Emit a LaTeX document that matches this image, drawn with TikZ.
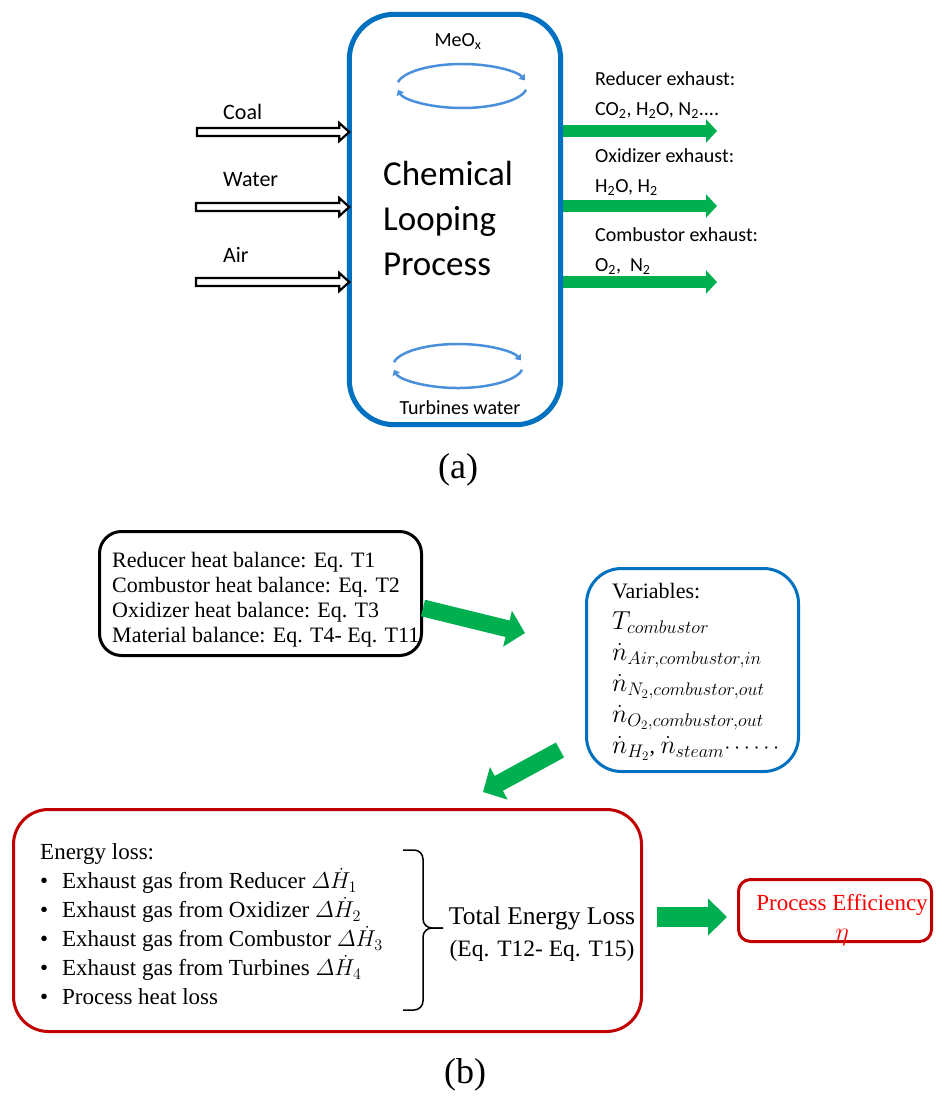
\RequirePackage{fix-cm}
\documentclass[tikz,border=0pt]{standalone}
\usepackage{amsmath}
\usepackage{fontspec}
\setmainfont{Liberation Serif}
\newfontfamily\carlito{Carlito}
\usetikzlibrary{arrows.meta,calc}
\definecolor{boxblue}{HTML}{0070C0}
\definecolor{loopblue}{HTML}{4A8FDB}
\definecolor{arrgreen}{HTML}{00B050}
\definecolor{darkred}{HTML}{C00000}
\definecolor{pered}{HTML}{FF0000}
\newcommand{\hollowarrow}[2]{%
  \draw[hollow] let \p1=(#1), \p2=(#2) in
    (\x1,\y1+4pt) -- (\x2-10pt,\y1+4pt) -- (\x2-10pt,\y1+9pt) -- (\x2,\y1)
    -- (\x2-10pt,\y1-9pt) -- (\x2-10pt,\y1-4pt) -- (\x1,\y1-4pt) -- cycle;}
\newcommand{\bulletitem}{\makebox[22pt][l]{\textbullet}}
\newcommand{\mbig}{\fontsize{26}{31}\selectfont}
\begin{document}
\begin{tikzpicture}[x=1pt,y=-1pt,
  cl/.style={font={\carlito\fontsize{20}{30}\selectfont}, inner sep=0pt},
  loopar/.style={draw=loopblue, line width=2.5pt, -{Triangle[length=5pt,width=8pt]}},
  outarrow/.style={draw=arrgreen, line width=12pt, -{Triangle[length=11pt,width=23pt]}},
  fat/.style={draw=arrgreen, line width=17pt, -{Triangle[length=18pt,width=36pt]}},
  fatter/.style={draw=arrgreen, line width=20pt, -{Triangle[length=19pt,width=36pt]}},
  hollow/.style={draw=black, fill=white, line width=2.2pt},
  tnr/.style={font={\fontsize{22}{25}\selectfont}, align=left, inner sep=0pt},
  bracestyle/.style={line width=1.5pt, rounded corners=9pt}]
\useasboundingbox (0,0) rectangle (935,1100);

% ---------- (a) ----------
\coordinate (coalS) at (197,132);
\coordinate (waterS) at (196,207);
\coordinate (airS) at (196,282);
\coordinate (out1) at (717,131);
\coordinate (out2) at (717,206);
\coordinate (out3) at (717,282);
\node[minimum width=211pt, minimum height=410pt, inner sep=0pt] (clp) at (455,219.5) {};
\draw[outarrow] ([xshift=2.5pt]clp.east |- out1) -- (out1);
\draw[outarrow] ([xshift=2.5pt]clp.east |- out2) -- (out2);
\draw[outarrow] ([xshift=2.5pt]clp.east |- out3) -- (out3);
\draw[draw=boxblue, line width=5pt, rounded corners=45pt] (clp.north west) rectangle (clp.south east);

\node[cl] (meox) at (458,42) {MeO\textsubscript{x}};
\coordinate (loopA) at (462,86);
\draw[loopar] ([shift={(190:65 and 22)}]loopA) arc[start angle=190,end angle=345,x radius=65,y radius=22];
\draw[loopar] ([shift={(10:65 and 22)}]loopA) arc[start angle=10,end angle=170,x radius=65,y radius=22];
\coordinate (loopB) at (458,366);
\draw[loopar] ([shift={(190:65 and 22)}]loopB) arc[start angle=190,end angle=345,x radius=65,y radius=22];
\draw[loopar] ([shift={(10:65 and 22)}]loopB) arc[start angle=10,end angle=170,x radius=65,y radius=22];
\node[cl] (turb) at (460,408) {Turbines water};

\node[anchor=west, align=left, inner sep=0pt, font={\carlito\fontsize{35}{45}\selectfont}] (cltext) at (383,218) {Chemical\\Looping\\Process};

\node[cl, anchor=west, font={\carlito\fontsize{22}{26}\selectfont}] (coal) at (223,112) {Coal};
\node[cl, anchor=west, font={\carlito\fontsize{22}{26}\selectfont}] (water) at (223,180) {Water};
\node[cl, anchor=west, font={\carlito\fontsize{22}{26}\selectfont}] (air) at (223,255) {Air};
\hollowarrow{coalS}{clp.west |- coalS}
\hollowarrow{waterS}{clp.west |- waterS}
\hollowarrow{airS}{clp.west |- airS}

\node[cl, anchor=west, align=left] (ex1) at (595,95) {Reducer exhaust:\\CO\textsubscript{2}, H\textsubscript{2}O, N\textsubscript{2}....};
\node[cl, anchor=west, align=left] (ex2) at (595,172.5) {Oxidizer exhaust:\\H\textsubscript{2}O, H\textsubscript{2}};
\node[cl, anchor=west, align=left] (ex3) at (595,251) {Combustor exhaust:\\O\textsubscript{2},\ \ N\textsubscript{2}};

\node[font={\fontsize{36}{40}\selectfont}, inner sep=0pt] (la) at (458,470) {(a)};

% ---------- (b) ----------
\node[draw=black, line width=3pt, rounded corners=22pt, minimum width=322pt, minimum height=124pt, inner sep=0pt] (b1) at (260.5,593.5) {};
\node[tnr, anchor=west] (b1t) at (112,600) {Reducer heat balance: Eq. T1\\Combustor heat balance: Eq. T2\\Oxidizer heat balance: Eq. T3\\Material balance: Eq. T4- Eq. T11};

\node[draw=boxblue, line width=3pt, rounded corners=35pt, minimum width=212pt, minimum height=203pt, inner sep=0pt] (b2) at (692.5,670) {};
\node[tnr, font={\fontsize{22}{31}\selectfont}, anchor=west] (b2t) at (612,672) {Variables:\\
{\mbig$T_{combustor}$}\\
{\mbig$\dot{n}_{Air,combustor,in}$}\\
{\mbig$\dot{n}_{N_2,combustor,out}$}\\
{\mbig$\dot{n}_{O_2,combustor,out}$}\\
{\mbig$\dot{n}_{H_2}$\fontsize{22}{31}\selectfont, \mbig$\dot{n}_{steam}$\fontsize{22}{31}\selectfont$\cdots\cdots$}};

\coordinate (t1) at (525,633);
\draw[fat] (b1.east |- 0,608) -- (t1);
\coordinate (s2) at (560,750);
\coordinate (t2) at (483,792);
\draw[fat] (s2) -- (t2);

\node[draw=darkred, line width=3pt, rounded corners=35pt, minimum width=628pt, minimum height=222pt, inner sep=0pt] (b3) at (327.5,920.5) {};
\node[tnr, font={\fontsize{23}{29}\selectfont}, anchor=west] (b3t) at (40,924.5) {Energy loss:\\
\bulletitem Exhaust gas from Reducer $\varDelta\dot{H}_1$\\
\bulletitem Exhaust gas from Oxidizer $\varDelta\dot{H}_2$\\
\bulletitem Exhaust gas from Combustor $\varDelta\dot{H}_3$\\
\bulletitem Exhaust gas from Turbines $\varDelta\dot{H}_4$\\
\bulletitem Process heat loss};

\coordinate (brt) at (403,850);
\coordinate (brm) at (443,928);
\coordinate (brb) at (403,1010);
\draw[bracestyle] (brt) -- (423,850) -- (423,928) -- (brm);
\draw[bracestyle] (brm) -- (423,928) -- (423,1010) -- (brb);

\node[align=center, inner sep=0pt, font={\fontsize{25.5}{32}\selectfont}] (tot) at (542,934) {Total Energy Loss\\{\fontsize{23.5}{32}\selectfont (Eq. T12- Eq. T15)}};

\node[draw=darkred, line width=3pt, rounded corners=12pt, minimum width=193pt, minimum height=62pt, inner sep=0pt] (pe) at (835,910.5) {};
\node[text=pered, align=center, inner sep=0pt, font={\fontsize{23}{30}\selectfont}] (pet) at (842,920) {Process Efficiency\\{\fontsize{26}{30}\selectfont$\eta$}};
\draw[fatter] ([xshift=14pt]b3.east |- 0,917) -- ([xshift=-10pt]pe.west |- 0,917);

\node[font={\fontsize{36}{40}\selectfont}, inner sep=0pt] (lb) at (465,1075) {(b)};
\end{tikzpicture}
\end{document}
